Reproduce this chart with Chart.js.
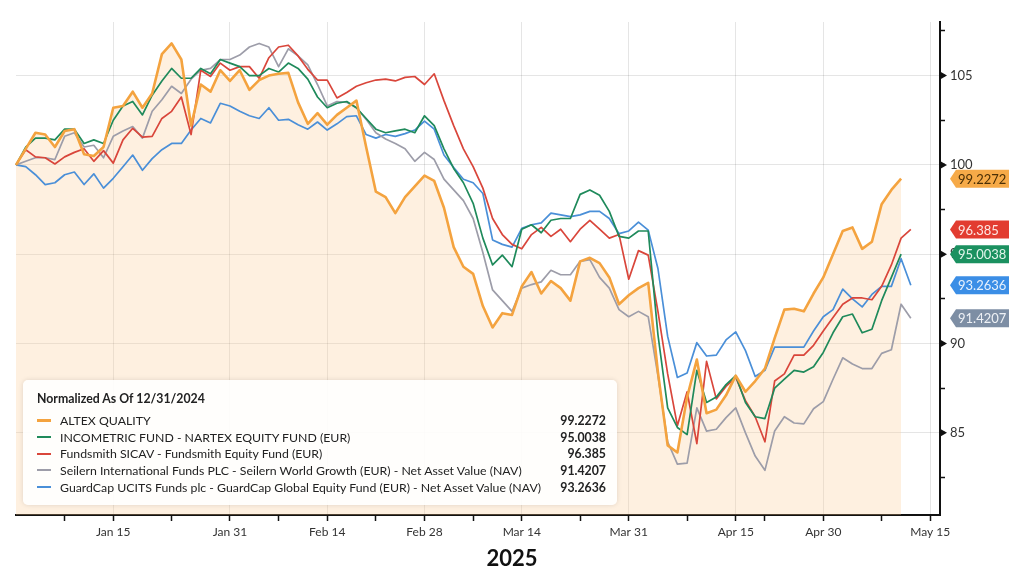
<!DOCTYPE html>
<html>
<head>
<meta charset="utf-8">
<title>Normalized As Of 12/31/2024</title>
<script src="https://cdn.jsdelivr.net/npm/chart.js@4.4.1/dist/chart.umd.min.js"></script>
<style>
  body { margin: 0; background: #fff; font-family: Lato, 'Noto Sans', sans-serif; }
  #wrap { position: relative; width: 1024px; height: 580px; }
  #legend {
    position: absolute; left: 23px; top: 380px; width: 594px; height: 125px;
    box-sizing: border-box; padding: 12px 11px 0 14px;
    background: rgba(255, 255, 255, 0.9); border-radius: 5px;
    box-shadow: 0 0 5px rgba(0, 0, 0, 0.12); color: #222; font-size: 12.3px;
  }
  #legend .title { font-weight: 700; line-height: 14px; margin-bottom: 6px; }
  #legend .row { display: flex; align-items: center; height: 16.7px; }
  #legend .sw { width: 14px; height: 2px; margin-right: 9px; }
  #legend .name { flex: 1; }
  #legend .val { font-weight: 700; }
  #year { position: absolute; left: 0; top: 544px; width: 1024px; text-align: center; font-weight: 700; font-size: 22px; color: #111; }
</style>
</head>
<body>
<div id="wrap">
  <canvas id="perfChart" width="1024" height="580"></canvas>
  <div id="legend"><div class="title">Normalized As Of 12/31/2024</div></div>
  <div id="year">2025</div>
</div>
<script>
// trading days, Dec 31 2024 .. May 16 2025
const dates = [
  'Dec 31', 'Jan 2', 'Jan 3', 'Jan 6', 'Jan 7', 'Jan 8', 'Jan 9', 'Jan 10', 'Jan 13', 'Jan 14',
  'Jan 15', 'Jan 16', 'Jan 17', 'Jan 20', 'Jan 21', 'Jan 22', 'Jan 23', 'Jan 24', 'Jan 27', 'Jan 28',
  'Jan 29', 'Jan 30', 'Jan 31', 'Feb 3', 'Feb 4', 'Feb 5', 'Feb 6', 'Feb 7', 'Feb 10', 'Feb 11',
  'Feb 12', 'Feb 13', 'Feb 14', 'Feb 17', 'Feb 18', 'Feb 19', 'Feb 20', 'Feb 21', 'Feb 24', 'Feb 25',
  'Feb 26', 'Feb 27', 'Feb 28', 'Mar 3', 'Mar 4', 'Mar 5', 'Mar 6', 'Mar 7', 'Mar 10', 'Mar 11',
  'Mar 12', 'Mar 13', 'Mar 14', 'Mar 17', 'Mar 18', 'Mar 19', 'Mar 20', 'Mar 21', 'Mar 24', 'Mar 25',
  'Mar 26', 'Mar 27', 'Mar 28', 'Mar 31', 'Apr 1', 'Apr 2', 'Apr 3', 'Apr 4', 'Apr 7', 'Apr 8',
  'Apr 9', 'Apr 10', 'Apr 11', 'Apr 14', 'Apr 15', 'Apr 16', 'Apr 17', 'Apr 22', 'Apr 23', 'Apr 24',
  'Apr 25', 'Apr 28', 'Apr 29', 'Apr 30', 'May 1', 'May 2', 'May 5', 'May 6', 'May 7', 'May 8',
  'May 9', 'May 12', 'May 13', 'May 14', 'May 15', 'May 16'
];
const labelledDates = ['Jan 15', 'Jan 31', 'Feb 14', 'Feb 28', 'Mar 14', 'Mar 31', 'Apr 15', 'Apr 30', 'May 15'];
const minorDates = ['Jan 8', 'Jan 23', 'Feb 7', 'Feb 21', 'Mar 7', 'Mar 24', 'Apr 8', 'Apr 22', 'May 8'];
const yTicks = [82.5, 85, 87.5, 90, 92.5, 95, 97.5, 100, 102.5, 105, 107.5];

const seriesNames = [
  'ALTEX QUALITY',
  'INCOMETRIC FUND - NARTEX EQUITY FUND (EUR)',
  'Fundsmith SICAV - Fundsmith Equity Fund (EUR)',
  'Seilern International Funds PLC - Seilern World Growth (EUR) - Net Asset Value (NAV)',
  'GuardCap UCITS Funds plc - GuardCap Global Equity Fund (EUR) - Net Asset Value (NAV)'
];

const altex = [
  100, 100.9, 101.8, 101.7, 101.0, 101.9, 102.0, 100.6, 100.5, 101.0,
  103.2, 103.3, 104.1, 103.2, 104.0, 106.2, 106.8, 105.9, 102.2, 104.5,
  104.1, 105.3, 104.7, 105.3, 104.2, 104.75, 105.0, 105.1, 105.15, 103.5,
  102.3, 102.9, 102.25, 102.8, 103.2, 103.6, 101.0, 98.5, 98.2, 97.3,
  98.2, 98.8, 99.4, 99.1, 97.6, 95.4, 94.3, 93.9, 92.1, 90.9,
  91.7, 91.6, 93.2, 94.0, 92.8, 93.5, 93.1, 92.4, 94.6, 94.8,
  94.5, 93.7, 92.2, 92.7, 93.1, 93.4, 88.4, 84.3, 83.9, 87.0,
  89.1, 86.1, 86.3, 87.1, 88.2, 87.3, 87.9, 88.6, 90.3, 91.9,
  91.95, 91.8, 92.8, 93.7, 95.0, 96.3, 96.5, 95.3, 95.7, 97.8,
  98.6, 99.2272
];
const incometric = [
  100, 101.0, 101.5, 101.5, 101.4, 102.0, 102.0, 101.2, 101.4, 101.2,
  102.5, 103.3, 103.55, 102.8, 103.9, 104.7, 105.4, 104.85, 104.85, 105.4,
  105.1, 105.9, 105.7, 105.5, 105.0, 105.0, 105.4, 105.2, 105.7, 105.4,
  104.8, 103.8, 103.2, 103.45, 103.55, 103.2, 102.6, 102.0, 101.8, 101.9,
  102.0, 101.8, 102.75, 102.2, 100.9, 99.8, 99.0, 97.85, 95.9, 94.4,
  94.95, 94.3, 96.4, 96.65, 96.2, 96.9, 97.0, 97.0, 98.35, 98.6,
  98.3, 97.4, 96.0, 95.9, 96.3, 96.3, 90.5, 86.4, 85.3, 84.9,
  88.5, 86.7, 87.0, 87.7, 88.2, 86.7, 85.9, 85.8, 87.5, 88.0,
  88.5, 88.4, 88.7, 89.5, 90.6, 91.5, 91.65, 90.6, 90.8, 92.4,
  93.7, 95.0038
];
const fundsmith = [
  100, 100.85, 100.45, 100.4, 100.05, 100.45, 100.7, 100.9, 100.2, 100.8,
  100.1, 101.4, 102.05, 101.55, 101.6, 102.6, 103.0, 103.8, 101.7, 105.3,
  104.95, 105.7, 105.3, 105.5, 105.5, 104.85, 106.0, 106.6, 106.7, 106.1,
  105.35, 104.75, 104.75, 103.75, 104.05, 104.4, 104.6, 104.75, 104.8, 104.7,
  104.9, 104.95, 104.5, 105.1, 103.6, 102.2, 100.9, 99.9, 98.7, 97.0,
  96.1, 95.55, 95.3, 96.1, 96.5, 96.0, 96.4, 95.7, 96.4, 96.9,
  96.4, 95.9, 96.1, 93.6, 95.2, 94.95, 91.8, 88.3, 85.4, 87.3,
  84.4, 89.0, 86.9, 87.6, 88.1, 86.8, 85.9, 84.5, 87.9, 88.3,
  89.35, 89.35, 89.9, 90.7, 91.45, 92.2, 92.55, 92.55, 92.45, 93.2,
  94.4, 95.9, 96.385
];
const seilern = [
  100, 100.2, 100.4, 100.4, 100.3, 101.6, 101.8, 101.0, 101.1, 100.4,
  101.6, 101.9, 102.15, 101.5, 103.0, 103.65, 104.4, 104.0, 104.8, 105.3,
  105.4, 105.9, 105.9, 106.15, 106.6, 106.8, 106.6, 105.5, 106.5, 106.1,
  105.6, 104.5, 103.3, 103.55, 103.5, 103.2, 102.55, 101.8, 101.45, 101.2,
  100.9, 100.2, 100.7, 100.3, 99.2, 98.6, 98.0, 97.0, 95.1, 93.0,
  92.4, 91.8, 93.1, 93.3, 93.45, 94.1, 93.85, 93.85, 94.6, 94.7,
  93.7, 93.1, 91.9, 91.5, 91.8, 91.5, 88.2, 84.5, 83.25, 83.3,
  86.4, 85.1, 85.2, 85.85, 86.4, 85.0, 83.7, 82.9, 85.1, 85.9,
  85.55, 85.5, 86.35, 86.75, 88.0, 89.2, 88.85, 88.6, 88.6, 89.45,
  89.65, 92.2, 91.4207
];
const guardcap = [
  100, 99.9, 99.45, 98.9, 99.0, 99.45, 99.6, 98.9, 99.5, 98.7,
  99.25, 99.9, 100.55, 99.7, 100.35, 100.85, 101.2, 101.2, 101.95, 102.6,
  102.35, 103.45, 103.3, 103.0, 102.75, 102.6, 103.2, 102.5, 102.55, 102.25,
  102.0, 102.4, 101.95, 102.3, 102.7, 102.75, 101.7, 101.5, 101.7, 101.6,
  101.75, 101.95, 102.45, 102.0, 100.55, 99.85, 99.2, 99.0, 98.4, 95.8,
  95.55, 95.4, 96.45, 96.65, 96.75, 97.3, 97.2, 97.1, 97.2, 97.4,
  97.4, 97.0, 96.15, 96.3, 96.8, 96.35, 94.2, 90.4, 88.1, 88.35,
  90.05, 89.3, 89.35, 90.2, 90.65, 89.6, 88.15, 88.5, 89.8, 89.8,
  89.8, 89.8, 90.7, 91.5, 91.9, 93.05, 92.5, 92.05, 92.75, 93.2,
  93.2, 94.75, 93.2636
];

const seriesValues = [altex, incometric, fundsmith, seilern, guardcap];
const lineColors = ['#f4a33f', '#1f8a5b', '#d9463b', '#9d9da9', '#4a8fd8'];
const lineWidths = [2.6, 1.7, 1.7, 1.7, 1.7];
const tagFill = ['#f6aa48', '#1b9160', '#e23c30', '#7d8ea4', '#3b8ee6'];
const tagText = ['#4a2f05', '#e3f5ec', '#fde8e4', '#eef1f5', '#e6f1fd'];

// value tags on the right axis + arrow marks on the main y ticks
const axisMarks = {
  id: 'axisMarks',
  afterDraw(chart) {
    const { ctx } = chart;
    const yScale = chart.scales.y;
    const x0 = yScale.left;
    ctx.save();
    ctx.fillStyle = '#111';
    yTicks.filter((v) => v % 5 === 0).forEach((v) => {
      const py = yScale.getPixelForValue(v);
      ctx.beginPath();
      ctx.moveTo(x0, py - 4);
      ctx.lineTo(x0 + 7, py);
      ctx.lineTo(x0, py + 4);
      ctx.closePath();
      ctx.fill();
    });
    ctx.font = '13px Lato, "Noto Sans", sans-serif';
    ctx.textBaseline = 'middle';
    seriesValues.forEach((vals, i) => {
      const py = yScale.getPixelForValue(vals[vals.length - 1]);
      ctx.fillStyle = tagFill[i];
      ctx.beginPath();
      ctx.moveTo(x0 + 10, py);
      ctx.lineTo(x0 + 16, py - 9);
      ctx.lineTo(x0 + 69, py - 9);
      ctx.lineTo(x0 + 69, py + 9);
      ctx.lineTo(x0 + 16, py + 9);
      ctx.closePath();
      ctx.fill();
      ctx.fillStyle = tagText[i];
      ctx.fillText(String(vals[vals.length - 1]), x0 + 18, py + 1);
    });
    ctx.restore();
  }
};

const datasets = seriesValues.map((vals, i) => ({
  label: seriesNames[i],
  data: vals,
  borderColor: lineColors[i],
  borderWidth: lineWidths[i],
  pointRadius: 0,
  tension: 0,
  borderJoinStyle: 'round',
  fill: i === 0 ? 'start' : false,
  backgroundColor: i === 0 ? 'rgba(250, 200, 140, 0.27)' : 'transparent'
}));

new Chart(document.getElementById('perfChart'), {
  type: 'line',
  data: { labels: dates, datasets: datasets },
  options: {
    responsive: false,
    animation: false,
    layout: { padding: { left: 16, top: 22, right: 0, bottom: 0 } },
    plugins: {
      legend: { display: false },
      tooltip: { enabled: false },
      filler: { drawTime: 'beforeDatasetsDraw' }
    },
    scales: {
      x: {
        afterFit: (scale) => { scale.height = 65; },
        border: { display: true, color: '#111', width: 2 },
        grid: {
          color: (c) => labelledDates.includes(dates[c.index]) ? 'rgba(0,0,0,0.1)' : 'transparent',
          tickColor: (c) => (labelledDates.includes(dates[c.index]) || minorDates.includes(dates[c.index])) ? '#111' : 'transparent',
          tickLength: 6,
          tickWidth: 1.5
        },
        ticks: {
          autoSkip: false,
          maxRotation: 0,
          padding: 4,
          color: '#333',
          font: { family: 'Lato', size: 12 },
          callback: (v, i) => labelledDates.includes(dates[i]) ? dates[i] : ''
        }
      },
      y: {
        position: 'right',
        min: 80.4,
        max: 108,
        afterFit: (scale) => { scale.width = 84; },
        afterBuildTicks: (scale) => { scale.ticks = yTicks.map((v) => ({ value: v })); },
        border: { display: true, color: '#111', width: 2 },
        grid: {
          color: (c) => (c.tick && c.tick.value % 5 === 0) ? 'rgba(0,0,0,0.1)' : 'transparent',
          tickColor: '#111',
          tickLength: 5,
          tickWidth: 1.5
        },
        ticks: {
          padding: 5,
          color: '#333',
          font: { family: 'Lato', size: 13 },
          callback: (v) => v % 5 === 0 ? v : ''
        }
      }
    }
  },
  plugins: [axisMarks]
});

// legend box
const legend = document.getElementById('legend');
seriesNames.forEach((name, i) => {
  const row = document.createElement('div');
  row.className = 'row';
  row.innerHTML = '<span class="sw" style="background:' + lineColors[i] + (i === 0 ? ';height:3px' : '') + '"></span>' +
    '<span class="name">' + name + '</span>' +
    '<span class="val">' + seriesValues[i][seriesValues[i].length - 1] + '</span>';
  legend.appendChild(row);
});
</script>
</body>
</html>
